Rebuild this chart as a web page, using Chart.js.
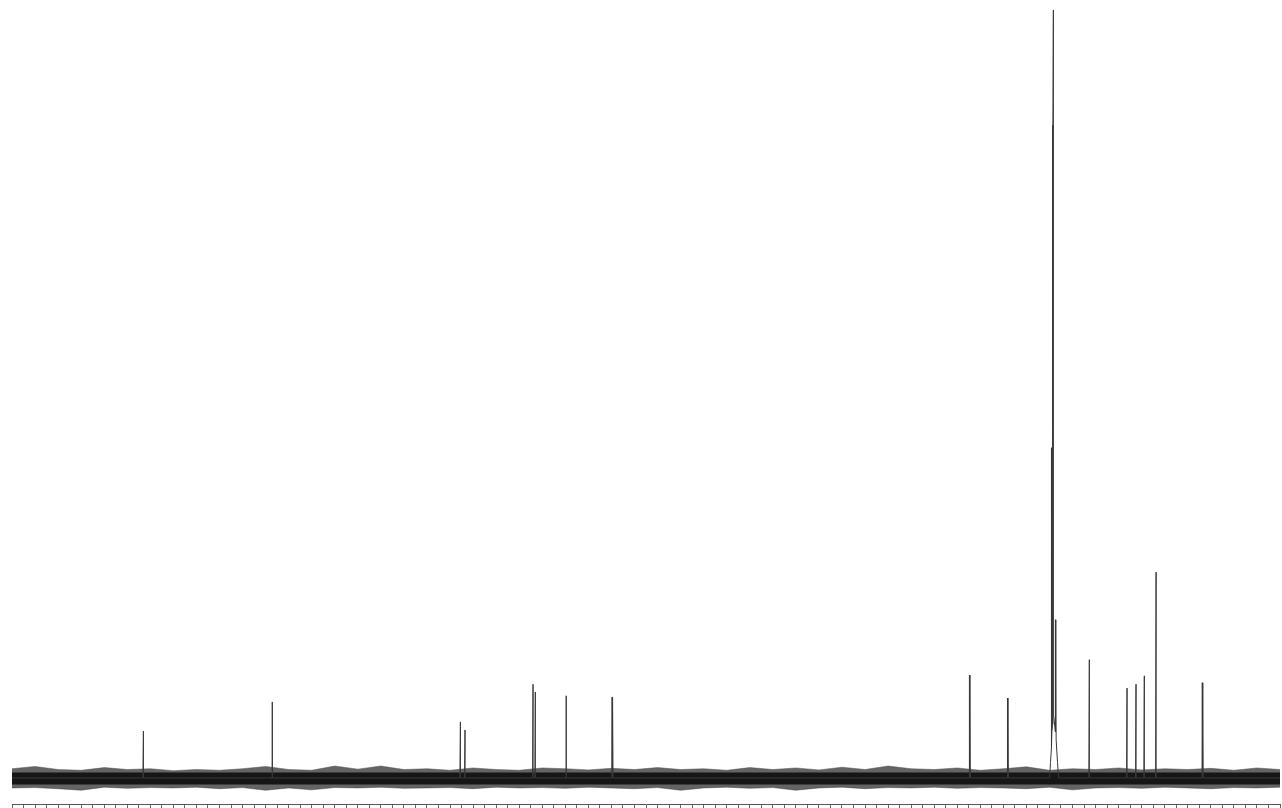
<!DOCTYPE html>
<html lang="en">

<head>
    <meta charset="UTF-8">
    <title>13C spectrum</title>
    <script src="https://cdn.jsdelivr.net/npm/chart.js"></script>
    <style>
        html, body { margin: 0; padding: 0; background: #fff; }
        #wrap { width: 1282px; height: 808px; position: relative; }
    </style>
</head>

<body>
    <div id="wrap">
        <canvas id="myChart"></canvas>
    </div>

    <script>
        // axis range (ppm), one tick per ppm, no labels on the scan
        const ppmLeft = 167;
        const ppmRight = 57;

        // single lines (ppm, relative intensity)
        const peakPpm = [155.6, 144.4, 128.1, 127.7, 121.8, 121.6, 118.9, 114.9, 83.9, 80.6, 73.54, 70.27, 69.49, 68.77, 67.75, 63.7];
        const peakInt = [6.1, 9.9, 7.3, 6.25, 12.2, 11.2, 10.7, 10.5, 13.4, 10.4, 15.4, 11.7, 12.2, 13.3, 26.8, 12.4];

        // the big solvent multiplet, read point by point
        const clusterPpm = [76.99, 76.91, 76.84, 76.81, 76.79, 76.72, 76.70, 76.66, 76.63, 76.48, 76.45, 76.42, 76.30, 76.21];
        const clusterInt = [0, 2, 4, 43, 6, 7, 85, 100, 8, 6, 20.6, 5, 2, 0];

        // baseline noise envelope, every 2 ppm
        const noiseX = [167, 165, 163, 161, 159, 157, 155, 153, 151, 149, 147, 145, 143, 141, 139, 137, 135, 133, 131, 129,
            127, 125, 123, 121, 119, 117, 115, 113, 111, 109, 107, 105, 103, 101, 99, 97, 95, 93, 91, 89,
            87, 85, 83, 81, 79, 77, 75, 73, 71, 69, 67, 65, 63, 61, 59, 57];
        const noiseHi = [1.2, 1.5, 1.1, 1.0, 1.35, 1.1, 1.2, 0.95, 1.1, 1.0, 1.2, 1.5, 1.1, 1.0, 1.55, 1.15, 1.55, 1.1, 1.2, 1.0,
            1.3, 1.1, 1.0, 1.3, 1.2, 1.05, 1.25, 1.1, 1.35, 1.1, 1.2, 1.0, 1.35, 1.1, 1.3, 1.05, 1.4, 1.1, 1.55, 1.2,
            1.1, 1.3, 1.0, 1.2, 1.45, 1.0, 1.2, 1.1, 1.3, 1.05, 1.2, 1.1, 1.25, 1.0, 1.3, 1.1];
        const noiseLo = [-1.3, -1.25, -1.4, -1.6, -1.2, -1.35, -1.25, -1.3, -1.2, -1.4, -1.25, -1.6, -1.3, -1.55, -1.25, -1.3, -1.2, -1.35, -1.3, -1.25,
            -1.4, -1.2, -1.3, -1.25, -1.35, -1.2, -1.3, -1.4, -1.25, -1.6, -1.3, -1.2, -1.35, -1.25, -1.6, -1.3, -1.2, -1.4, -1.25, -1.3,
            -1.2, -1.35, -1.25, -1.3, -1.4, -1.2, -1.55, -1.3, -1.25, -1.35, -1.2, -1.3, -1.4, -1.25, -1.3, -1.2];
        const coreHi = 0.7;
        const coreLo = -0.85;

        const lineHalfWidth = 0.04;

        // spectrum trace
        let trace = [{ x: ppmRight, y: 0 }, { x: ppmLeft, y: 0 }];
        peakPpm.forEach((p, i) => {
            trace.push({ x: p - lineHalfWidth, y: 0 }, { x: p, y: peakInt[i] }, { x: p + lineHalfWidth, y: 0 });
        });
        clusterPpm.forEach((p, i) => trace.push({ x: p, y: clusterInt[i] }));
        trace.sort((a, b) => a.x - b.x);

        const outerHi = noiseX.map((x, i) => ({ x: x, y: noiseHi[i] }));
        const outerLo = noiseX.map((x, i) => ({ x: x, y: noiseLo[i] }));
        const innerHi = noiseX.map(x => ({ x: x, y: coreHi }));
        const innerLo = noiseX.map(x => ({ x: x, y: coreLo }));

        const data = {
            datasets: [
                {
                    label: 'spectrum',
                    data: trace,
                    borderColor: '#383838',
                    borderWidth: 1,
                    pointRadius: 0,
                    tension: 0,
                    fill: false
                },
                {
                    label: 'core hi',
                    data: innerHi,
                    borderColor: 'rgba(0,0,0,0)',
                    borderWidth: 0,
                    pointRadius: 0,
                    fill: '+1',
                    backgroundColor: '#161616'
                },
                {
                    label: 'core lo',
                    data: innerLo,
                    borderColor: 'rgba(0,0,0,0)',
                    borderWidth: 0,
                    pointRadius: 0,
                    fill: false
                },
                {
                    label: 'noise hi',
                    data: outerHi,
                    borderColor: 'rgba(80,80,80,0.5)',
                    borderWidth: 1,
                    pointRadius: 0,
                    fill: '+1',
                    backgroundColor: 'rgba(40,40,40,0.72)'
                },
                {
                    label: 'noise lo',
                    data: outerLo,
                    borderColor: 'rgba(80,80,80,0.5)',
                    borderWidth: 1,
                    pointRadius: 0,
                    fill: false
                }
            ]
        };

        const config = {
            type: 'line',
            data: data,
            options: {
                responsive: true,
                maintainAspectRatio: false,
                animation: false,
                layout: {
                    padding: { top: 0, left: 12, right: 2, bottom: 0 }
                },
                plugins: {
                    legend: { display: false },
                    tooltip: { enabled: false }
                },
                scales: {
                    x: {
                        type: 'linear',
                        reverse: true,
                        min: ppmRight,
                        max: ppmLeft,
                        border: { display: true, color: '#555', width: 1 },
                        grid: { display: true, drawOnChartArea: false, drawTicks: true, tickLength: 4, color: '#666' },
                        ticks: { display: false, stepSize: 1, autoSkip: false }
                    },
                    y: {
                        display: false,
                        min: -3.39,
                        max: 101.3
                    }
                }
            }
        };

        new Chart(document.getElementById('myChart'), config);
    </script>
</body>

</html>
